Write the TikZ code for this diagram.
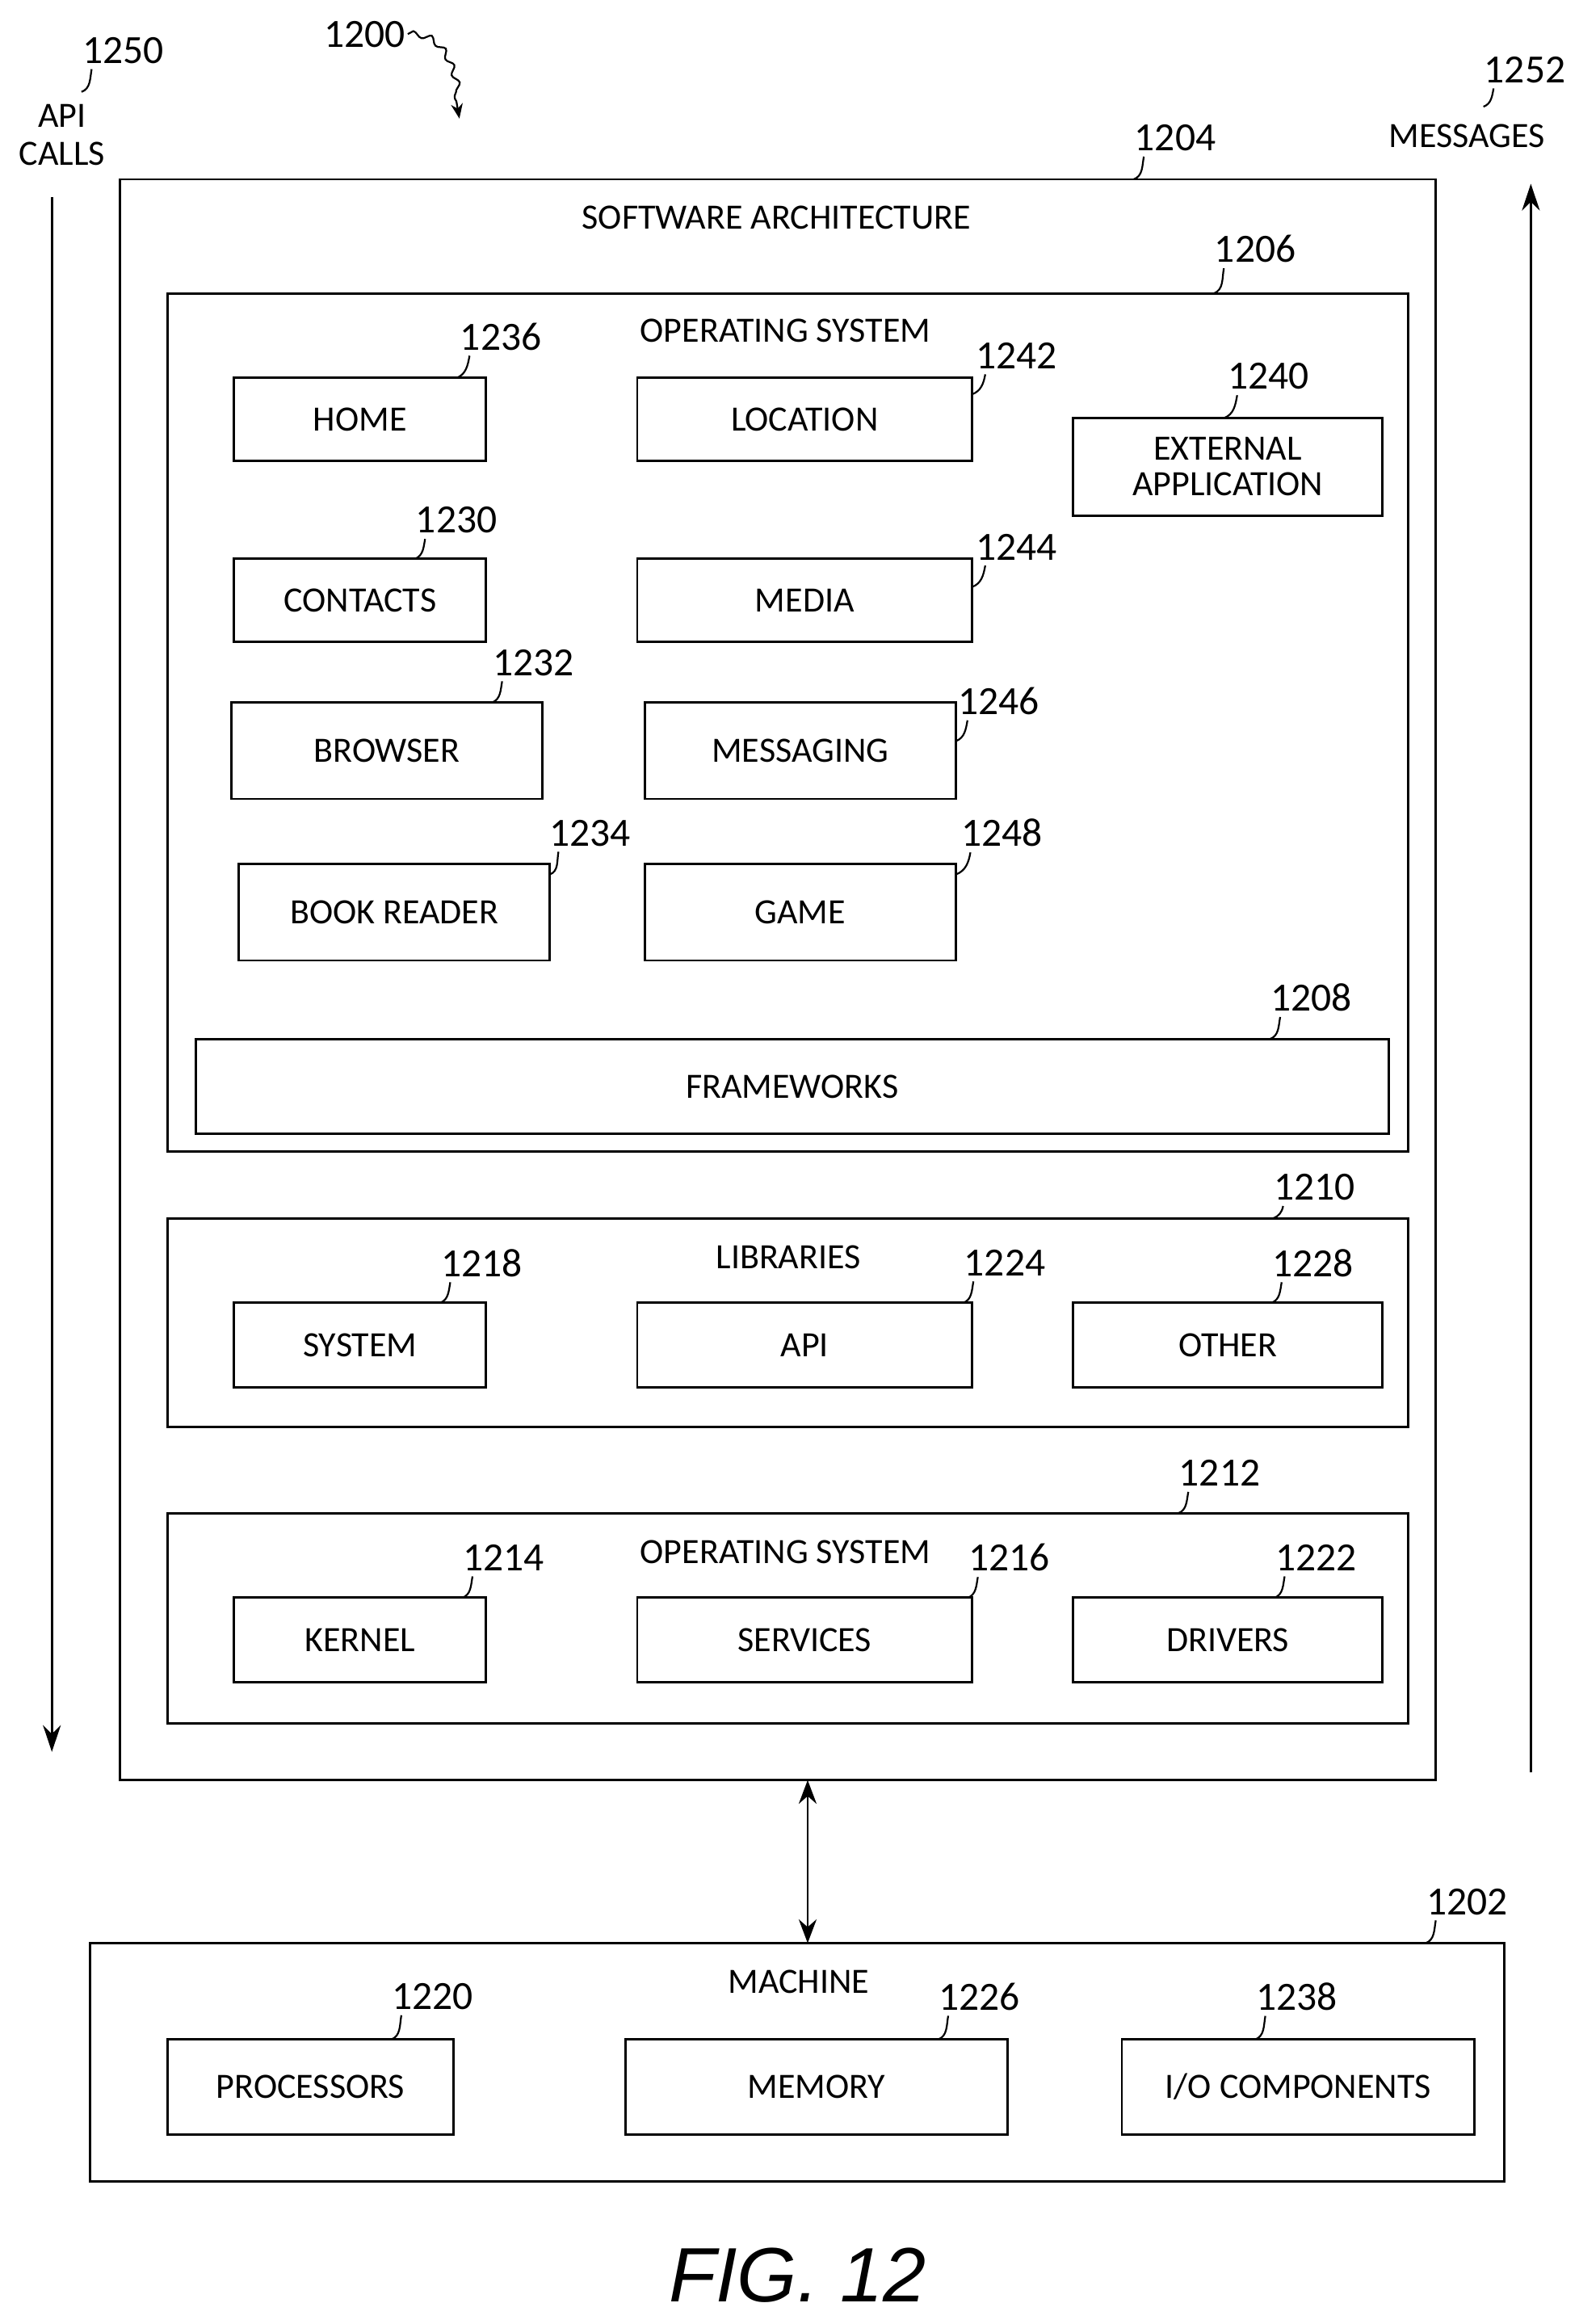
\documentclass[tikz,border=0pt]{standalone}
\usepackage{fontspec}
\setmainfont{Carlito}
\newfontfamily\figfont{Liberation Sans}
\usetikzlibrary{calc,arrows.meta,decorations.pathmorphing}
\begin{document}
\begin{tikzpicture}[x=1pt,y=-1pt,line width=1.6pt,
  bx/.style={draw,minimum width=0pt},
  lbl/.style={font=\fontsize{24}{28}\selectfont},
  nm/.style={font=\fontsize{27}{30}\selectfont,inner sep=1pt},
  ld/.style={line width=1.2pt}]
\useasboundingbox (0,0) rectangle (1065,1568);
\newcommand\bx[4]{\draw (#2) rectangle (#3); \node[lbl,align=center] (#1) at ($(#2)!0.5!(#3)$) {#4};}
\newcommand\nmr[4]{\node[nm] (#1) at (#2) {#3}; \draw[ld] ($(#1.south west)+(8,2)$) to[out=-100,in=20] (#4);}
% outer
\draw (81,121) rectangle (969,1201);
\node[lbl] (sa) at (524,147) {SOFTWARE ARCHITECTURE};
\nmr{n1204}{793,93}{1204}{765,121}
\draw (113,198) rectangle (950,777);
\node[lbl] (os1) at (530,223) {OPERATING SYSTEM};
\nmr{n1206}{847,168}{1206}{819,198}
\bx{home}{158,255}{328,311}{HOME}
\nmr{n1236}{338,227}{1236}{308,255}
\bx{loc}{430,255}{656,311}{LOCATION}
\nmr{n1242}{686,240}{1242}{656,266}
\bx{ext}{724,282}{933,348}{EXTERNAL\\[-4pt]APPLICATION}
\nmr{n1240}{856,254}{1240}{826,282}
\bx{cont}{158,377}{328,433}{CONTACTS}
\nmr{n1230}{308,351}{1230}{280,377}
\bx{med}{430,377}{656,433}{MEDIA}
\nmr{n1244}{686,369}{1244}{656,396}
\bx{brow}{156,474}{366,539}{BROWSER}
\nmr{n1232}{360,447}{1232}{332,474}
\bx{msg}{435,474}{645,539}{MESSAGING}
\nmr{n1246}{674,473}{1246}{645,500}
\bx{book}{161,583}{371,648}{BOOK READER}
\nmr{n1234}{398,562}{1234}{371,590}
\bx{game}{435,583}{645,648}{GAME}
\nmr{n1248}{676,562}{1248}{645,590}
\bx{fw}{132,701}{937,765}{FRAMEWORKS}
\nmr{n1208}{885,673}{1208}{857,701}
% libraries
\draw (113,822) rectangle (950,963);
\node[lbl] (lib) at (532,848) {LIBRARIES};
\nmr{n1210}{887,801}{1210}{859,822}
\bx{sys}{158,879}{328,936}{SYSTEM}
\nmr{n1218}{325,852}{1218}{297,879}
\bx{api}{430,879}{656,936}{API}
\nmr{n1224}{678,852}{1224}{650,879}
\bx{oth}{724,879}{933,936}{OTHER}
\nmr{n1228}{886,852}{1228}{858,879}
% os
\draw (113,1021) rectangle (950,1163);
\node[lbl] (os2) at (530,1047) {OPERATING SYSTEM};
\nmr{n1212}{823,994}{1212}{795,1021}
\bx{ker}{158,1078}{328,1135}{KERNEL}
\nmr{n1214}{340,1051}{1214}{312,1078}
\bx{serv}{430,1078}{656,1135}{SERVICES}
\nmr{n1216}{681,1051}{1216}{653,1078}
\bx{drv}{724,1078}{933,1135}{DRIVERS}
\nmr{n1222}{888,1051}{1222}{860,1078}
% machine
\coordinate (sw) at (545,1201);
\coordinate (mt) at (545,1311);
\draw[{Stealth[length=16pt,width=12pt]}-{Stealth[length=16pt,width=12pt]}] (sw) -- (mt);
\draw (61,1311) rectangle (1015,1472);
\node[lbl] (mach) at (539,1337) {MACHINE};
\nmr{n1202}{990,1283}{1202}{962,1311}
\bx{proc}{113,1376}{306,1440}{PROCESSORS}
\nmr{n1220}{292,1347}{1220}{264,1376}
\bx{mem}{422,1376}{680,1440}{MEMORY}
\nmr{n1226}{661,1347}{1226}{633,1376}
\bx{io}{757,1376}{995,1440}{I/O COMPONENTS}
\nmr{n1238}{875,1347}{1238}{847,1376}
% side arrows
\coordinate (a1) at (35,133); \coordinate (a2) at (35,1182);
\draw[-{Stealth[length=18pt,width=12pt]}] (a1) -- (a2);
\node[lbl,align=center] (apic) at (42,91) {API\\[-2pt]CALLS};
\nmr{n1250}{83,34}{1250}{55,62}
\coordinate (m1) at (1033,1196); \coordinate (m2) at (1033,124);
\draw[-{Stealth[length=18pt,width=12pt]}] (m1) -- (m2);
\node[lbl] (msgs) at (990,92) {MESSAGES};
\nmr{n1252}{1029,47}{1252}{1001,72}
% 1200
\node[nm] (n1200) at (246,23) {1200};
\coordinate (p1200) at (310,80);
\draw[ld,-{Stealth[length=10pt,width=8pt]},decorate,decoration={snake,amplitude=2pt,segment length=12pt,post length=8pt}] (n1200.east) to[out=0,in=100] (p1200);
\node[font=\figfont\itshape\fontsize{52}{56}\selectfont] (fig) at (538,1535) {FIG. 12};
\end{tikzpicture}
\end{document}
